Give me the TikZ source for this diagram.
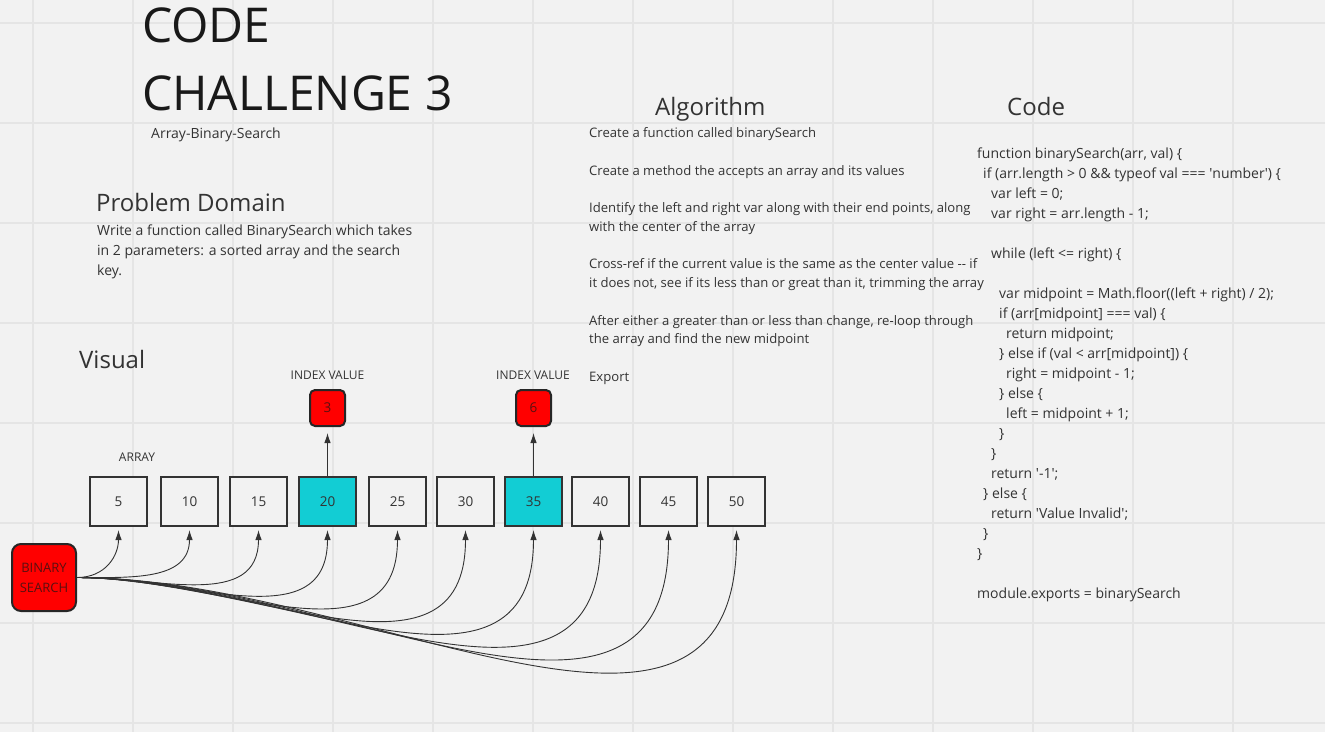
\documentclass[tikz,border=0pt]{standalone}
\usepackage{fontspec}
\setmainfont{Open Sans}
\usetikzlibrary{arrows.meta}

\definecolor{bg}{HTML}{F2F2F2}
\definecolor{gridgray}{HTML}{E5E5E5}
\definecolor{ink}{HTML}{333333}
\definecolor{hitcyan}{HTML}{12CDD4}
\definecolor{alertred}{HTML}{FF0000}
\definecolor{redink}{HTML}{5A1010}

\newcommand{\sz}[1]{\fontsize{#1}{#1}\selectfont}
\newcommand{\sq}{\textquotesingle}

\tikzset{
  gridline/.style={draw=gridgray, line width=1.5pt},
  txt/.style={anchor=base west, inner sep=0pt, text=ink},
  heading/.style={txt, font=\sz{24}},
  body/.style={txt, font=\sz{13.1}},
  codeline/.style={txt, font=\sz{14}},
  tag/.style={anchor=base, inner sep=0pt, text=ink, font=\sz{12}},
  cell/.style={draw=ink, line width=2pt, fill=bg, minimum width=57pt, minimum height=49pt, inner sep=0pt, text=ink, font=\sz{13.5}},
  hit/.style={cell, fill=hitcyan},
  idxbox/.style={draw=black!85, line width=2pt, fill=alertred, rounded corners=5pt, minimum width=35pt, minimum height=36pt, inner sep=0pt, text=redink, font=\sz{13.5}},
  searchbox/.style={draw=black!85, line width=2pt, fill=alertred, rounded corners=9pt, minimum width=64pt, minimum height=67pt, inner sep=0pt, align=center, text=redink, font=\fontsize{13}{20}\selectfont},
  link/.style={draw=ink, line width=0.9pt, -{Latex[length=10pt,width=6.5pt]}},
}

\begin{document}
\begin{tikzpicture}[x=1pt,y=-1pt]
% board
\useasboundingbox (0,0) rectangle (1325,732);
\fill[bg] (0,0) rectangle (1325,732);
\foreach \gx in {33,133,...,1233} \draw[gridline] (\gx,0) -- (\gx,732);
\foreach \gy in {23,123,...,723} \draw[gridline] (0,\gy) -- (1325,\gy);

% title
\node[txt, text=black!90, font=\sz{48}] (title1) at (142,42) {CODE};
\node[txt, text=black!90, font=\sz{48}] (title2) at (142,110) {CHALLENGE 3};
\node[txt, font=\sz{14}] (subtitle) at (151,138) {Array-Binary-Search};

% problem domain
\node[heading] (probhead) at (96,211) {Problem Domain};
\node[txt, font=\sz{14}] (prob1) at (97,235) {Write a function called BinarySearch which takes};
\node[txt, font=\sz{14}] (prob2) at (97,255) {in 2 parameters: a sorted array and the search};
\node[txt, font=\sz{14}] (prob3) at (97,275) {key.};

% visual
\node[heading] (vishead) at (79,368) {Visual};
\node[tag] (arrlabel) at (137,461) {ARRAY};
\node[tag] (idxlabel1) at (327.5,379) {INDEX VALUE};
\node[tag] (idxlabel2) at (533,379) {INDEX VALUE};

\node[cell] (b5) at (118.5,501.5) {5};
\node[cell] (b10) at (189.5,501.5) {10};
\node[cell] (b15) at (258.5,501.5) {15};
\node[hit] (b20) at (327.5,501.5) {20};
\node[cell] (b25) at (397.5,501.5) {25};
\node[cell] (b30) at (465.5,501.5) {30};
\node[hit] (b35) at (533.5,501.5) {35};
\node[cell] (b40) at (600.5,501.5) {40};
\node[cell] (b45) at (668.5,501.5) {45};
\node[cell] (b50) at (736.5,501.5) {50};

\node[idxbox] (i3) at (327.5,408) {3};
\node[idxbox] (i6) at (533.5,408) {6};

\draw[link, shorten >=6pt] (b20.north) -- (i3.south);
\draw[link, shorten >=6pt] (b35.north) -- (i6.south);

\node[searchbox] (bs) at (44,577.5) {BINARY\\SEARCH};

\draw[link, shorten >=3pt] (bs.east) to[out=0,in=-90,looseness=1.12] (b5.south);
\draw[link, shorten >=3pt] (bs.east) to[out=0,in=-90,looseness=1.12] (b10.south);
\draw[link, shorten >=3pt] (bs.east) to[out=0,in=-90,looseness=1.12] (b15.south);
\draw[link, shorten >=3pt] (bs.east) to[out=0,in=-90,looseness=1.12] (b20.south);
\draw[link, shorten >=3pt] (bs.east) to[out=0,in=-90,looseness=1.12] (b25.south);
\draw[link, shorten >=3pt] (bs.east) to[out=0,in=-90,looseness=1.12] (b30.south);
\draw[link, shorten >=3pt] (bs.east) to[out=0,in=-90,looseness=1.12] (b35.south);
\draw[link, shorten >=3pt] (bs.east) to[out=0,in=-90,looseness=1.12] (b40.south);
\draw[link, shorten >=3pt] (bs.east) to[out=0,in=-90,looseness=1.12] (b45.south);
\draw[link, shorten >=3pt] (bs.east) to[out=0,in=-90,looseness=1.12] (b50.south);

% algorithm
\node[heading] (alghead) at (655,115) {Algorithm};
\node[body] (alg1) at (589,137.5) {Create a function called binarySearch};
\node[body] (alg2) at (589,175) {Create a method the accepts an array and its values};
\node[body] (alg3) at (589,212.5) {Identify the left and right var along with their end points, along};
\node[body] (alg4) at (589,231.25) {with the center of the array};
\node[body] (alg5) at (589,268.75) {Cross-ref if the current value is the same as the center value -{}- if};
\node[body] (alg6) at (589,287.5) {it does not, see if its less than or great than it, trimming the array};
\node[body] (alg7) at (589,325) {After either a greater than or less than change, re-loop through};
\node[body] (alg8) at (589,343.75) {the array and find the new midpoint};
\node[body] (alg9) at (589,381.25) {Export};

% code
\node[heading] (codehead) at (1007,115) {Code};
\node[codeline] (c1) at (977,158) {function binarySearch(arr, val) \{};
\node[codeline] (c2) at (983,178) {if (arr.length > 0 \&\& typeof val === \sq number\sq) \{};
\node[codeline] (c3) at (991,198) {var left = 0;};
\node[codeline] (c4) at (991,218) {var right = arr.length - 1;};
\node[codeline] (c5) at (991,258) {while (left <= right) \{};
\node[codeline] (c6) at (999,298) {var midpoint = Math.floor((left + right) / 2);};
\node[codeline] (c7) at (999,318) {if (arr[midpoint] === val) \{};
\node[codeline] (c8) at (1006,338) {return midpoint;};
\node[codeline] (c9) at (999,358) {\} else if (val < arr[midpoint]) \{};
\node[codeline] (c10) at (1006,378) {right = midpoint - 1;};
\node[codeline] (c11) at (999,398) {\} else \{};
\node[codeline] (c12) at (1006,418) {left = midpoint + 1;};
\node[codeline] (c13) at (999,438) {\}};
\node[codeline] (c14) at (991,458) {\}};
\node[codeline] (c15) at (991,478) {return \sq-1\sq;};
\node[codeline] (c16) at (983,498) {\} else \{};
\node[codeline] (c17) at (991,518) {return \sq Value Invalid\sq;};
\node[codeline] (c18) at (983,538) {\}};
\node[codeline] (c19) at (977,558) {\}};
\node[codeline] (c20) at (977,598) {module.exports = binarySearch};
\end{tikzpicture}
\end{document}
